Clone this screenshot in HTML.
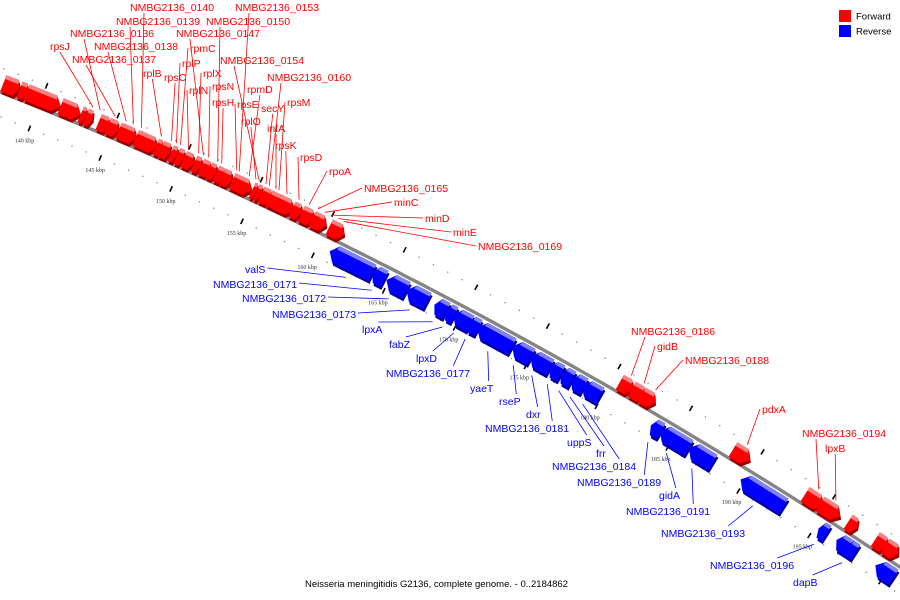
<!DOCTYPE html>
<html><head><meta charset="utf-8"><style>
html,body{margin:0;padding:0;background:#fff;}
svg{display:block;}
text{font-family:"Liberation Sans",sans-serif;}
</style></head><body>
<svg id="chart" width="900" height="600" viewBox="0 0 900 600">
<g id="ticks"></g>
<path id="backbone" fill="none" stroke="#858585" stroke-width="3.4"/>
<g id="genes"></g>
<g id="labels"></g>
<g>
<rect x="839" y="10" width="12" height="12" fill="#ff0000"/>
<text x="856" y="19.5" font-size="9.5" fill="#000">Forward</text>
<rect x="839" y="25" width="12" height="12" fill="#0000ff"/>
<text x="856" y="34.5" font-size="9.5" fill="#000">Reverse</text>
</g>
<text x="305" y="587" font-size="9.5" fill="#000">Neisseria meningitidis G2136, complete genome. - 0..2184862</text>
</svg>
<script>
// data (kbp)
const fwdStart=[137.33,137.89,138.46,138.95,141.33,142.74,143.09,144.0,144.63,145.40,145.61,146.60,146.81,147.16,148.0,148.35,148.56,149.05,149.47,149.96,150.67,151.16,151.72,152.21,152.63,153.33,154.74,155.02,155.37,155.44,155.93,156.49,157.54,158.18,158.95,160.14,180.49,181.33,182.04,188.42,193.47,194.53,196.49,198.39,199.09];
const fwdEnd=[138.60,138.39,139.02,141.33,142.74,143.09,143.58,144.77,145.40,145.75,146.67,146.95,147.30,148.07,148.42,148.70,148.98,149.47,149.96,150.67,151.16,151.86,152.21,152.77,153.33,154.74,155.02,155.37,155.58,156.07,156.77,157.68,158.18,159.09,159.93,161.19,181.40,182.25,182.95,189.61,194.74,195.93,197.12,199.23,200.0];
const revStart=[160.84,163.86,164.84,166.25,168.21,169.05,169.54,170.60,171.23,173.68,174.95,176.35,177.12,177.89,178.60,183.44,184.07,186.11,189.75,195.23,196.49,197.19,199.23];
const revEnd=[163.86,164.70,166.25,167.72,169.05,169.61,170.74,171.30,173.68,175.02,176.35,177.12,177.89,178.74,179.86,184.14,186.11,187.79,192.77,195.79,197.40,197.82,200.5];
const fwdLabels=["rpsJ","NMBG2136_0136","NMBG2136_0137","NMBG2136_0138","NMBG2136_0139","NMBG2136_0140","rplB","rpsC","rplP","rpmC","rplN","rplX","NMBG2136_0147","rpsN","rpsH","NMBG2136_0150","rpsE","NMBG2136_0153","rplO","rpmD","NMBG2136_0154","secY","NMBG2136_0160","infA","rpsM","rpsK","rpsD","rpoA","NMBG2136_0165","minC","minD","minE","NMBG2136_0169","NMBG2136_0186","gidB","NMBG2136_0188","pdxA","NMBG2136_0194","lpxB"];
const fwdTargets=[143.30,143.79,144.84,145.61,146.11,146.67,148.07,148.77,149.12,149.40,149.96,150.67,151.0,151.37,152.28,152.0,153.33,153.5,154.67,154.2,154.9,155.37,155.6,156.07,156.28,156.84,157.68,158.39,159.0,159.5,159.9,160.4,160.8,180.9,181.8,182.6,189.0,194.0,195.2];
const revLabels=["valS","NMBG2136_0171","NMBG2136_0172","NMBG2136_0173","lpxA","fabZ","lpxD","NMBG2136_0177","yaeT","rseP","dxr","NMBG2136_0181","uppS","frr","NMBG2136_0184","NMBG2136_0189","gidA","NMBG2136_0191","NMBG2136_0193","NMBG2136_0196","dapB"];
const revTargets=[162.5,164.3,165.5,167.0,168.6,169.3,170.1,170.9,172.5,174.3,175.6,176.7,177.5,178.3,179.2,183.8,185.1,186.9,191.2,195.5,197.5];
const tickLabels=["140 kbp","145 kbp","150 kbp","155 kbp","160 kbp","165 kbp","170 kbp","175 kbp","180 kbp","185 kbp","190 kbp","195 kbp"];
// layout (label text positions)
const fwdPos=[[50,50],[70,37],[72,63],[94,50],[116,25],[130,11],[143,77],[164,81],[182,67],[190,52],[189,94],[203,77],[176,37],[212,90],[212,106],[206,25],[237,108],[235,11],[241,125],[247,93],[220,64],[261,112],[267,81],[267,132],[287,106],[275,149],[300,161],[329,175],[364,192],[394,206],[425,222],[453,236],[478,250],[631,335],[657,350],[685,364],[762,413],[802,437],[825,452]];
const revPos=[[245,273],[213,288],[242,302],[272,318],[362,333],[389,348],[416,362],[386,377],[470,392],[499,405],[526,418],[485,432],[567,446],[596,457],[552,470],[577,486],[659,499],[626,515],[661,537],[710,569],[793,586]];

const NS="http://www.w3.org/2000/svg";
function f(x){return 92+0.3935*x+0.0001493*x*x;}
function fp(x){return 0.3935+2*0.0001493*x;}
function kx(k){return 38+(k-140)*14.25;}
function pt(k,off){const x=kx(k),d=fp(x),l=Math.hypot(1,d);return [x+(-d/l)*off, f(x)+(1/l)*off];}
function P(a){return a[0].toFixed(1)+","+a[1].toFixed(1);}

let dd="";for(let k=136;k<=202;k+=0.5){dd+=(dd?"L":"M")+P(pt(k,0));}
document.getElementById('backbone').setAttribute('d',dd);

const tg=document.getElementById('ticks');
for(let k=137;k<=201;k++){
  for(const off of [-23,23]){
    if(k%5===0){
      const a=pt(k,off-3),b=pt(k,off+3);
      const ln=document.createElementNS(NS,'line');
      ln.setAttribute('x1',a[0]);ln.setAttribute('y1',a[1]);ln.setAttribute('x2',b[0]);ln.setAttribute('y2',b[1]);
      ln.setAttribute('stroke','#000');ln.setAttribute('stroke-width','1.6');
      
      
      tg.appendChild(ln);
    } else {
      const a=pt(k,off);
      const c=document.createElementNS(NS,'rect');
      c.setAttribute('x',a[0]-0.6);c.setAttribute('y',a[1]-0.6);c.setAttribute('width',1.3);c.setAttribute('height',1.3);
      c.setAttribute('fill','#888');
      
      
      tg.appendChild(c);
    }
  }
}
tickLabels.forEach((t,i)=>{
  const k=140+i*5;const a=pt(k,36);
  const tx=document.createElementNS(NS,'text');
  tx.setAttribute('x',a[0]);tx.setAttribute('y',a[1]+2);tx.setAttribute('text-anchor','middle');
  tx.setAttribute('font-size','6');tx.setAttribute('fill','#333');
  tx.style.fontFamily='"Liberation Serif",serif';
  tx.textContent=t;
  
  
  tg.appendChild(tx);
});

const gg=document.getElementById('genes');
function gene(s,e,fwd){
  const o1=fwd?-18:3,o2=fwd?-1:21,mid=(o1+o2)/2;
  const len=e-s, head=Math.min(len*0.35,0.45);
  let pts=[];
  if(fwd){
    pts=[pt(s,o1),pt(e-head,o1),pt(e,mid),pt(e-head,o2),pt(s,o2)];
  } else {
    pts=[pt(s+head,o1),pt(e,o1),pt(e,o2),pt(s+head,o2),pt(s,mid)];
  }
  const g=document.createElementNS(NS,'g');
  
  
  const sh=document.createElementNS(NS,'polygon');
  sh.setAttribute('points',pts.map(p=>(p[0]+1).toFixed(1)+","+(p[1]+3).toFixed(1)).join(" "));
  sh.setAttribute('fill',fwd?'#990000':'#000099');
  g.appendChild(sh);
  const m=document.createElementNS(NS,'polygon');
  m.setAttribute('points',pts.map(P).join(" "));
  m.setAttribute('fill',fwd?'#ff0000':'#0000ff');
  g.appendChild(m);
  const t1=o1+4;
  let tp=fwd?[pt(s,o1),pt(e-head,o1),pt(e-head*0.8,t1),pt(s,t1)]:[pt(s+head,o1),pt(e,o1),pt(e,t1),pt(s+head*0.8,t1)];
  const top=document.createElementNS(NS,'polygon');
  top.setAttribute('points',tp.map(P).join(" "));
  top.setAttribute('fill',fwd?'#ff8080':'#8080ff');
  g.appendChild(top);
  gg.appendChild(g);
}
fwdStart.forEach((s,i)=>gene(s,fwdEnd[i],true));
revStart.forEach((s,i)=>gene(s,revEnd[i],false));

const lg=document.getElementById('labels');
function label(txt,pos,k,fwd){
  const tx=document.createElementNS(NS,'text');
  tx.setAttribute('x',pos[0]);tx.setAttribute('y',pos[1]);
  tx.setAttribute('font-size','10.5');tx.setAttribute('fill',fwd?'#ff0000':'#0000ff');
  tx.textContent=txt;
  
  
  lg.appendChild(tx);
  const w=tx.getComputedTextLength();
  const tgt=pt(k,fwd?-21:28);
  let sx,sy;
  if(fwd){
    if(pos[0]>tgt[0]){sx=pos[0]-2;sy=pos[1]-4;} else {sx=pos[0]+Math.min(w/2,14);sy=pos[1]+2;}
  } else {
    if(pos[0]+w<tgt[0]-8 && pos[1]<330){sx=pos[0]+w+2;sy=pos[1]-5;} else {sx=pos[0]+w*0.8;sy=pos[1]-11;}
  }
  const ln=document.createElementNS(NS,'line');
  ln.setAttribute('x1',sx);ln.setAttribute('y1',sy);ln.setAttribute('x2',tgt[0]);ln.setAttribute('y2',tgt[1]);
  ln.setAttribute('stroke',fwd?'#ff0000':'#0000ff');ln.setAttribute('stroke-width','0.8');
  
  
  lg.appendChild(ln);
}
fwdLabels.forEach((t,i)=>label(t,fwdPos[i],fwdTargets[i],true));
revLabels.forEach((t,i)=>label(t,revPos[i],revTargets[i],false));
</script>
</body></html>
